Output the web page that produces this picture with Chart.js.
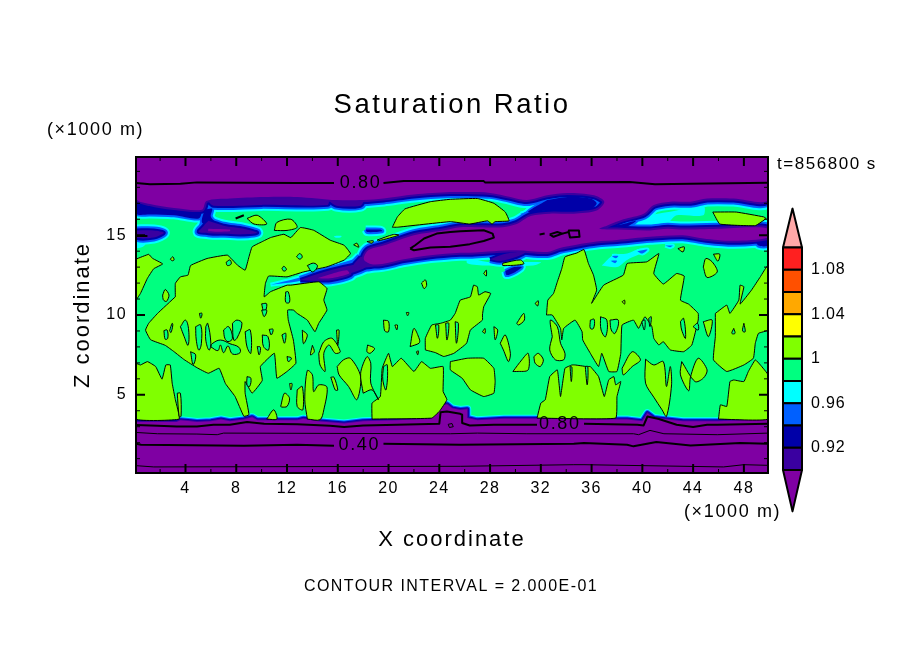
<!DOCTYPE html>
<html>
<head>
<meta charset="utf-8">
<title>Saturation Ratio</title>
<script src="https://cdn.jsdelivr.net/npm/chart.js@4"></script>
<style>
html, body { margin: 0; padding: 0; background: #ffffff; }
#page { position: relative; width: 904px; height: 654px; overflow: hidden; }
#mainchart { position: absolute; left: 0; top: 0; }
#colorbar { position: absolute; left: 770px; top: 190px; }
</style>
</head>
<body>
<div id="page">
<canvas id="mainchart" width="904" height="654"></canvas>
<canvas id="colorbar" width="120" height="340"></canvas>
</div>
<script>
// all shapes are [x km, z km]

// colour bar
const levelEdges = [0.90, 0.92, 0.94, 0.96, 0.98, 1.00, 1.02, 1.04, 1.06, 1.08, 1.10];
const levelColors = ["#3a00a0", "#0000a8", "#0060ff", "#00ffff", "#00ff80", "#80ff00", "#ffff00", "#ffa800", "#ff5000", "#ff2020"];
const belowColor = "#7f00a3";
const aboveColor = "#ffa8a8";
const colorbarTicks = [0.92, 0.96, 1, 1.04, 1.08];

// axes
const xMajorTicks = [4, 8, 12, 16, 20, 24, 28, 32, 36, 40, 44, 48];
const xMinorTicks = [2, 6, 10, 14, 18, 22, 26, 30, 34, 38, 42, 46];
const zMajorTicks = [5, 10, 15];
const zMinorTicks = [1, 2, 3, 4, 6, 7, 8, 9, 11, 12, 13, 14, 16, 17, 18, 19];

// cold regions, upper layer
const coldTop = [[0.1,19.9],[49.9,19.9],[49.9,17.2],[47.2,17.3],[45.1,17.3],[43.8,17.1],[42.2,17.1],[40.9,16.9],[40.1,16.35],[38.5,16.0],[37.2,15.6],[36.6,15.4],[38,15.35],[40.6,15.3],[42,15.4],[43.2,15.35],[45.9,15.4],[48.5,15.5],[49.9,15.4],[49.9,14.85],[47.2,14.65],[44.8,14.8],[43.2,15.0],[40.6,14.9],[38,14.7],[36.4,14.6],[34.8,14.4],[33.5,14.2],[32.5,13.95],[30.1,14.05],[28.3,14.0],[26.4,13.9],[25.65,13.9],[23.3,13.75],[21.2,13.5],[19.5,13.2],[18.6,13.2],[18.05,13.5],[18.4,14.05],[19.6,14.35],[22,15],[24.3,15.3],[25.65,15.5],[27,15.5],[29,15.5],[30.1,15.7],[31.2,16.2],[32.7,16.35],[34.6,16.35],[36.4,16.55],[37,17.1],[36.2,17.5],[34.1,17.65],[32.5,17.5],[30.9,17.2],[29.6,17.4],[28,17.65],[26.2,17.7],[24.87,17.7],[22,17.55],[19.6,17.3],[18,17.2],[15.9,17.2],[12.8,17.4],[10.2,17.4],[7.5,17.3],[5.65,17.15],[5.3,16.6],[3.1,16.7],[1.2,16.95],[0.1,17.3]];
const coldRibbon = [[5.7,17.2],[15.2,17.3],[15.2,16.9],[10,16.9],[6.2,16.85]];
const coldNotch = [[32.5,17.2],[34.1,17.4],[35.9,17.3],[36.4,17.0],[35.9,16.6],[34.1,16.45],[32.5,16.55],[31.0,16.45]];
const coldNotchTail = [[30.4,16.35],[32.2,16.7],[32.2,16.45],[30.8,16.0]];
const coldLeftStrip = [[0.1,17.3],[3.1,16.7],[5.2,16.55],[5.05,16.05],[3.1,16.25],[1.2,16.3],[0.1,16.35]];
const coldLeftBlob = [[0.1,15.3],[1.5,15.3],[2.3,15.15],[1.5,14.85],[0.1,14.85]];
const coldLeftTail = [[0.1,14.8],[0.1,14.2],[0.7,14.3],[1.0,14.8]];
const coldMainBlob = [[5.8,15.9],[7,15.6],[8.6,15.4],[9.65,15.15],[8.3,15.05],[6.5,15.15],[5.05,15.2],[5.45,15.6]];
const coldMainCore = [[5.8,15.4],[7.5,15.35],[7.5,15.25],[5.8,15.25]];
const coldStem = [[5.5,16.6],[5.9,16.5],[5.6,15.85],[5.05,15.5]];
const coldBridge = [[5.5,16.6],[6.1,16.65],[6,16.15],[6.6,15.7],[7.5,15.5],[6,15.6],[5.3,15.8]];
const coldHook = [[15.2,17.2],[18,17.2],[17.8,16.85],[15.9,16.85]];
const coldStreakSmall = [[18.2,15.35],[19.35,15.35],[19.5,15.25],[18.3,15.2]];
const coldSpeck = [[15.7,14.95],[16.3,14.95],[16.2,14.85],[15.8,14.85]];
const coldTail = [[10.7,11.9],[12.8,12.3],[15.4,13],[17.8,13.6],[18,13.35],[15.4,12.6],[12.8,12.1]];
const coldBody = [[13.05,12.2],[14.9,12.7],[17,13.1],[18.6,13.3],[18,12.9],[16.5,12.5],[14.4,12.15]];
const coldBodyCore = [[14.4,12.3],[15.4,12.55],[16.7,12.8],[16.9,12.6],[15.4,12.3]];
const coldLink = [[17.8,13.65],[19.6,13.45],[18.6,13],[17.25,13.1]];
const coldStreakEast = [[28,13.5],[29.3,13.85],[30.8,13.95],[30.1,13.65],[28.8,13.4]];
const coldFringe = [[26.2,13.6],[28,13.3],[32,13.3],[31.4,13.1],[27.8,13.1],[26.2,13.25]];
const coldLowerBlob = [[29.2,12.75],[29.9,13],[30.5,13],[30,12.7],[29.3,12.5]];
const coldPatch = [[36.8,13.1],[37.7,13.75],[38.8,13.85],[39.8,14.15],[40.4,14.05],[38.8,13.45],[38,13]];
const coldDot1 = [[37.6,13.7],[38.1,13.7],[37.9,13.55]];
const coldDot2 = [[37.5,13.4],[38,13.4],[37.85,13.25]];
const coldDot3 = [[39.6,14],[40.4,14.1],[40,13.85]];
const coldDot4 = [[41.8,14.35],[42.4,14.35],[42.2,14.25]];
const coldRightEdge = [[48.9,14.7],[49.9,14.9],[49.9,14.35],[49.15,14.35]];
const coldInlet = [[37,15.5],[38.5,15.8],[40.6,16.25],[42.7,16.55],[44.8,16.9],[44.8,16.25],[42.7,16.25],[42,15.8],[40.9,15.8],[40.6,15.5]];
const coldInletNavy = [[37.3,15.5],[38.5,15.7],[39.5,15.9],[38.8,15.55]];
const coldWest1 = [[1.9,9.3],[2.3,9.55],[2.45,9.15],[2.0,8.9]];

// cold region, lower layer
const coldBottom = [[0.1,3.3],[3.3,3.3],[3.6,3.4],[4.4,3.35],[4.9,3.3],[6,3.35],[6.8,3.45],[7.5,3.35],[8.6,3.45],[9.25,3.6],[9.65,3.4],[12.8,3.4],[13.3,3.5],[14.4,3.35],[16.5,3.2],[18,3.35],[20.7,3.4],[23.3,3.5],[24,4],[24.2,4.3],[24.6,4.4],[25,4.15],[25.65,4.05],[26.2,4.1],[26.2,3.55],[27,3.4],[29.1,3.5],[32,3.5],[36.2,3.45],[38.8,3.45],[40,3.35],[40.4,3.85],[40.9,3.55],[43.2,3.35],[45.9,3.35],[49.9,3.45],[49.9,0.1],[0.1,0.1]];

// areas above saturation, big ones first
const limeNorth = [[20.3,15.5],[20.7,16.15],[21.3,16.65],[23.3,17.1],[24.87,17.25],[27,17.3],[28.3,17],[29.2,16.45],[29.5,15.9],[28.4,15.85],[28.15,15.7],[27.8,15.9],[26.4,15.7],[24.87,15.85],[20.7,15.5]];
const limeNorthEast = [[45.55,16.45],[47.4,16.45],[49.55,16.15],[49.75,16.05],[48.9,15.6],[46.1,15.7]];
const limeWestEdge = [[0.1,13.5],[1.1,13.8],[1.4,13.55],[2.2,13.2],[1.5,12.9],[1,12.3],[0.45,11.35],[0.1,10.95]];
const limeWest = [[3.2,11.14],[3.2,11.98],[3.6,12.39],[4.2,12.5],[4.4,13.1],[5.7,13.54],[7.3,13.75],[8.1,13.12],[8.7,12.81],[9,13.64],[9.25,14.27],[10,14.58],[10.7,14.85],[11.75,15.06],[12.3,14.85],[13.05,15.48],[14.1,15.31],[15.4,14.69],[16.5,14.37],[17,13.85],[16.5,13.44],[15.15,13.02],[13.3,12.7],[12,12.39],[10.55,12.44],[10.3,11.98],[10.2,11.14],[10.7,11.46],[12,11.87],[12.3,11.87],[14.5,12.08],[15.15,11.66],[14.9,10.94],[15.15,10.31],[14.5,9.48],[14.2,8.95],[13.6,9.68],[12.8,10.1],[12.5,10.31],[12.05,10.31],[12.1,9.68],[12.5,8.43],[12.7,6.98],[12,6.46],[11.2,6.04],[11,7.6],[9.9,6.77],[10.05,5.9],[9.25,5.1],[8.7,5.83],[8.7,5.1],[9,3.75],[8.6,3.65],[7.9,4.9],[7.15,5.7],[6.65,6.66],[5.8,6.35],[4.9,6.7],[3.9,7.2],[3.1,7.7],[2.4,8.1],[1.25,8.45],[0.85,9.05],[1.1,9.48],[1.8,10.1]];
const limeSouthWest = [[0.1,6.98],[0.45,6.87],[1,7.08],[1.65,6.77],[2.15,5.98],[2.45,6.87],[2.8,6.87],[2.95,5.73],[3.2,4.7],[3.5,3.48],[0.1,3.48]];
const limeHumpEast = [[18.7,3.48],[18.7,4.48],[19.35,4.89],[19.5,6.66],[20,7.6],[20.3,6.77],[21,7.29],[22,6.46],[22.6,7.08],[23.3,6.66],[24.3,6.77],[24.3,5.21],[24.6,4.69],[24,3.96],[23.4,3.54]];
const limeCentre = [[22.9,7.81],[22.9,8.54],[23.4,9.37],[24.1,9.48],[24.87,9.68],[25.25,10.1],[25.65,10.93],[26.45,11.14],[26.7,11.87],[27,11.77],[27.1,11.25],[27.6,11.46],[28.05,11.35],[27.5,10.52],[27.4,10],[27.4,9.68],[26.45,9.06],[26.15,8.23],[25.15,7.6],[24.35,7.4],[23.7,7.64]];
const limeBlob25 = [[24.87,7.08],[26.2,7.29],[27.5,7.29],[28.3,6.66],[28.4,5.83],[28.3,5.1],[27.5,4.89],[26.45,5.31],[25.8,6.04],[24.87,6.56]];
const limeSouthMid = [[31.7,3.54],[32,4.48],[32.35,4.69],[32.7,6.14],[33.3,6.56],[33.55,4.89],[33.9,6.66],[34.45,6.87],[34.7,6.87],[35.6,6.77],[35.9,6.77],[36.55,6.14],[37,4.89],[37.35,5.94],[37.75,6.14],[37.9,5.62],[38.3,5.83],[38,4.89],[37.9,3.54]];
const limeMidEast = [[32.45,10],[32.55,10.93],[33,11.35],[33.3,12.08],[33.65,12.91],[33.9,13.64],[34.85,13.89],[35.4,14.1],[35.75,13.23],[36.15,12.5],[36.4,11.56],[36,10.73],[36.95,11.87],[38.5,12.5],[38.8,13.23],[40.35,13.33],[41.3,13.85],[40.9,12.6],[41.65,11.94],[42.7,12.6],[43.3,12.44],[43,10.93],[43.65,10.68],[44.4,10.1],[44.4,9.68],[43.9,8.12],[43.25,7.7],[42.2,7.81],[41.65,8.33],[41.3,8.12],[40.9,8.54],[40.75,9.27],[40.2,9.89],[39.7,9.16],[39.3,9.68],[38.4,9.37],[38.3,7.6],[38,6.46],[37.35,6.46],[36.8,7.6],[36.55,6.77],[35.9,7.6],[35.3,8.44],[35.25,8.95],[34.7,9.68],[33.8,9.16],[33.65,8.44],[33.55,9.16],[32.9,10]];
const limeFarEast = [[45.75,10.1],[46.65,10.62],[46.9,10.1],[47.6,10.93],[47.7,11.87],[48,11.77],[47.7,10.68],[48.6,11.56],[49.3,12.4],[49.9,13.12],[49.9,9.06],[49.15,8.85],[48.9,8.23],[48.75,7.29],[48,6.87],[46.65,6.46],[45.6,7.19],[45.75,8.64]];
const limeSouthEast = [[46,3.48],[46.15,4.37],[46.65,4.27],[46.9,5.83],[47.2,5.93],[48,5.83],[48.35,6.46],[48.9,7.19],[49.3,6.87],[49.9,6.25],[49.9,3.48]];

// smaller lime fingers and islands
const limeSliver = [[3.35,5.1],[3.6,5.1],[3.65,3.65],[3.5,3.65]];
const limeIslet1 = [[8.85,16.05],[9.65,16.25],[10.4,15.7],[9.4,15.7]];
const limeIslet2 = [[11,15.3],[11.2,15.8],[12.3,16],[12.8,15.5],[12,15.3]];
const limeIslet3 = [[17.25,14.4],[17.5,14.5],[17.65,14.25]];
const limeIslet4 = [[18.3,14.6],[18.8,14.65],[18.7,14.5]];
const limeIslet5 = [[19.1,14.7],[20.4,15.05],[20.8,15],[19.2,14.65]];
const limeIslet6 = [[22.6,12],[22.9,12.2],[23,11.85],[22.8,11.65]];
const limeIslet7 = [[29,13.25],[30.4,13.45],[30.65,13.2],[29,13.1]];
const limeIslet8 = [[2.8,13.5],[3,13.65],[3.1,13.45],[2.95,13.4]];
const limeIslet9 = [[2.2,11.25],[2.4,11.6],[2.7,11.25],[2.5,10.85],[2.25,10.95]];
const limeFinger1 = [[10.4,3.48],[10.95,4.06],[11.2,3.48]];
const limeFinger2 = [[11.5,4.27],[11.8,5.1],[12.2,4.79],[12,4.27],[11.6,4.23]];
const limeFinger3 = [[13.6,3.48],[13.4,4.7],[13.6,6.52],[14,6.25],[14.1,5.2],[14.5,5.62],[15.15,5.48],[14.9,4.06],[14.6,3.44]];
const limeFinger4 = [[12.8,5.31],[13.2,5.52],[13.25,4.06],[12.8,4.27]];
const limeFinger5 = [[14.5,7.6],[14.9,8.33],[15.55,8.54],[16.2,7.7],[15.8,7.6],[15.3,8.12],[14.9,7.6],[15,6.46],[14.6,6.87]];
const limeFinger6 = [[15.95,6.77],[16.45,7.19],[17,7.29],[17.8,6.14],[17.5,4.69],[16.85,5.52],[16.1,6.25]];
const limeFinger7 = [[18,5.1],[17.8,6.35],[18.3,7.39],[18.6,6.98],[18.6,5.73],[19.2,4.69],[18.7,5.31]];
const limeFinger8 = [[18.35,8.12],[18.9,7.91],[18.55,7.6],[18.3,7.7]];
const limeFinger9 = [[19.6,9.68],[20,9.6],[20,8.95],[19.7,9]];
const limeFinger10 = [[20.5,9.37],[20.7,9.37],[20.65,9.06]];
const limeFinger11 = [[21.7,8.02],[22,9.16],[22.45,8.44],[22.4,8.23]];
const limeFinger12 = [[22.2,7.7],[22.35,7.75],[22.3,7.5]];
const limeFinger13 = [[21.4,10.15],[21.6,10.15],[21.5,9.95]];
const limeFinger14 = [[15.45,6.1],[15.7,6.1],[16,5.3],[15.8,5.3]];
const limeFinger15 = [[32.9,8.64],[32.75,9.68],[33.3,9.27],[33.55,8.23],[33.9,7.6],[33.8,7.19],[33.15,7.19],[32.7,7.81]];
const limeFinger16 = [[38.4,6.66],[39.2,7.7],[39.85,7.19],[39.2,6.77],[38.5,6.25]];
const limeFinger17 = [[31.45,7.39],[31.8,7.6],[32.2,7.19],[31.95,6.77],[31.55,6.98]];
const limeFinger18 = [[29.8,6.46],[30.5,7.19],[31,7.6],[31,6.56],[30.1,6.46]];
const limeFinger19 = [[30.1,9.48],[30.65,10.1],[30.7,9.68],[30.25,9.37]];
const limeFinger20 = [[28.8,8.23],[29.2,8.75],[29.6,7.6],[29.45,7.08],[29.05,7.81]];
const limeFinger21 = [[27.4,8.95],[27.6,9.16],[27.6,8.85]];
const limeFinger22 = [[28.3,9.27],[28.6,9.06],[28.4,8.44]];
const limeFinger23 = [[40.25,7.23],[40.9,6.87],[41.65,7.08],[41.9,5.52],[42.2,6.77],[42.3,5.62],[41.9,3.64],[41.55,4.06],[40.9,4.85],[40.25,5.73]];
const limeFinger24 = [[43.1,7.08],[43,6.25],[43.65,5.25],[43.8,6.14],[44.4,7.29],[45.1,6.56],[44.8,6.04],[44.15,5.83]];
const limeFinger25 = [[44.8,9.58],[45.5,9.68],[45.2,8.64]];
const limeFinger26 = [[13.2,9.05],[13.6,8.75],[13.3,8.2]];
const limeFinger27 = [[14,8.1],[14.15,7.7],[13.85,7.5]];
const limeFinger28 = [[15.9,9.05],[16.1,9.05],[16,8.1]];
const limeFinger29 = [[12.2,5.7],[12.4,5.7],[12.3,5.3]];
const limeIslet10 = [[44.8,13],[45,13.54],[45.5,13.33],[45.9,12.7],[45.1,12.35]];
const limeIslet11 = [[45.6,13.81],[46.1,13.81],[45.95,13.37]];
const limeIslet12 = [[42.8,14.16],[43.3,14.27],[43.2,13.95]];
const limeIslet13 = [[31.55,10.73],[31.8,10.89],[31.75,10.56]];
const limeIslet14 = [[38.4,10.83],[38.6,10.93],[38.6,10.68]];
const limeIslet15 = [[27.5,12.6],[27.7,12.81],[27.7,12.44]];

// mint holes inside the lime areas
const hole1 = [[3.6,9.27],[4,9.68],[4.25,9.06],[4.2,8.1],[3.9,8.64]];
const hole2 = [[4.8,9.27],[5.2,9.37],[5.25,8.2],[5.05,7.8],[4.85,8.43]];
const hole3 = [[5.6,9.27],[5.75,9.48],[6,8.2],[5.85,7.8],[5.6,8.43]];
const hole4 = [[7,9.06],[7.4,9.27],[7.7,8.54],[7.35,8.33],[7.1,8.54]];
const hole5 = [[6,8],[6.55,7.77],[6.75,8.12],[7,7.64],[7.35,8.06],[7.7,7.56],[8.3,7.64],[8.2,7.98],[7.5,8.2],[6.75,8.43],[6.1,8.2]];
const hole6 = [[7.7,9.48],[8.05,9.68],[8.45,9.48],[8.05,8.54],[7.8,8.43]];
const hole7 = [[8.7,8.95],[9.1,9.06],[9.15,7.6],[8.85,8]];
const hole8 = [[10.05,8.75],[10.5,8.64],[10.55,7.81],[10.15,8.02]];
const hole9 = [[9.65,8.02],[9.9,7.98],[9.8,7.5]];
const hole10 = [[11.6,8.75],[11.9,8.85],[11.8,8.23]];
const hole11 = [[12,7.4],[12.35,7.3],[12.1,7.08]];
const hole12 = [[8.85,6.14],[9.15,6.04],[9.05,5.52],[8.85,5.62]];
const hole13 = [[2.3,9.02],[2.55,9.06],[2.6,8.54],[2.4,8.48]];
const hole14 = [[2.75,9.02],[2.95,9.48],[3,9.37],[2.85,8.9]];
const hole15 = [[12.75,13.65],[13,13.85],[13.2,13.65],[13,13.5]];
const hole16 = [[13.6,13.1],[14.1,13.25],[14.4,13.06],[14,12.7]];
const hole17 = [[7.2,13.3],[7.5,13.45],[7.6,13.2],[7.3,13.1]];
const hole18 = [[11.6,12.9],[11.75,13.05],[11.95,12.85],[11.75,12.75]];
const hole19 = [[11.9,11.45],[12.1,11.45],[12.2,10.8],[11.9,10.8]];
const hole20 = [[10,10.7],[10.4,10.7],[10.2,10.1]];
const hole21 = [[19.6,6.77],[19.9,6.87],[19.8,5.31],[19.55,5.93]];
const hole22 = [[23.7,9.37],[23.95,9.37],[23.85,8.54]];
const hole23 = [[24.5,9.48],[24.75,9.48],[24.6,8.43]];
const hole24 = [[25.25,9.58],[25.5,9.48],[25.35,8.23]];
const hole25 = [[34.3,6.77],[34.45,6.73],[34.4,5.83]];
const hole26 = [[35.5,6.77],[35.7,6.77],[35.65,5.62]];
const hole27 = [[35.9,9.68],[36.2,9.73],[36.15,9.16],[35.9,9.16]];
const hole28 = [[36.7,9.89],[37.2,9.68],[37.1,8.64],[36.75,9.06]];
const hole29 = [[37.45,9.68],[38.1,9.68],[37.85,8.85],[37.55,9.06]];
const hole30 = [[39.95,9.58],[40.2,9.68],[40.15,9.06]];
const hole31 = [[40.5,9.79],[40.7,9.89],[40.6,9.27]];
const hole32 = [[43,9.58],[43.25,9.79],[43.4,8.54],[43.1,9.06]];
const hole33 = [[44,9.27],[44.35,9.48],[44.4,9.06]];
const hole34 = [[47.2,9.16],[47.3,8.85],[47.05,8.85]];
const hole35 = [[48,9.48],[48.1,8.95],[47.9,9]];
const hole36 = [[4.4,7.7],[4.8,7.5],[4.6,6.9]];
const hole37 = [[5.1,10.1],[5.3,10.1],[5.2,9.8]];
const hole38 = [[10,10.3],[10.4,10.3],[10.2,9.9]];
const hole39 = [[10.6,9.1],[10.9,9.1],[10.75,8.75]];

// contour lines
const contourTopWest = [[0.1,18.27],[1.2,18.19],[3.6,18.23],[4.9,18.31],[12.8,18.27],[15.7,18.27]];
const contourTopEast = [[19.6,18.27],[21.2,18.39],[24.87,18.39],[27.5,18.39],[27.6,18.31],[39,18.33],[41,18.19],[43.8,18.23],[49.9,18.29]];
const contourLens = [[21.7,14.16],[22.1,14.37],[22.8,14.79],[23.8,15.1],[24.87,15.2],[25.66,15.25],[27.5,15.31],[28.2,15.1],[28.3,14.85],[27.5,14.64],[26.4,14.44],[24.87,14.27],[23.3,14.23],[22,14.06],[21.7,14.16]];
const contourDash = [[7.95,16.05],[8.6,16.25]];
const contourEdgeDash = [[0.1,14.95],[1.0,14.95]];
const contourSmallDash = [[31.9,15.05],[32.3,15.1]];
const contourSmallA = [[32.7,15.05],[33.3,15.2],[33.7,15.1],[33,14.9],[32.7,15.05]];
const contourSmallB = [[33.7,15.1],[34.2,15.2],[34.2,15.3],[35,15.3],[35.05,14.9],[34.3,14.85],[34.2,15.2]];
const contour080West = [[0.1,3.1],[1.8,3.06],[3.3,3.02],[4.9,3.02],[6.2,3.12],[7.5,3.12],[8.85,3.29],[10.2,3.19],[12.8,3.16],[15.4,3.06],[16.5,2.98],[18,3.08],[20.7,3.12],[24,3.19],[24.1,3.9],[24.6,3.95],[25.65,3.81],[25.8,3.75],[25.8,3.23],[26.4,3.08],[28.3,3.12],[31.7,3.12]];
const contour080East = [[35.4,3.19],[39.6,3.12],[40.1,3.08],[40.4,3.64],[41.3,3.48],[42.7,3.12],[44,2.98],[45.1,3.12],[45.9,3.12],[49.9,3.19]];
const contour060 = [[0.1,2.64],[1.8,2.56],[4.9,2.54],[6.5,2.5],[7,2.6],[24.87,2.56],[27,2.6],[30.9,2.56],[39.3,2.56],[39.7,2.5],[40.6,2.77],[41.7,2.56],[45.9,2.5],[49.9,2.6]];
const contour040West = [[0.1,1.93],[0.5,1.87],[8.6,1.81],[12.8,1.87],[15.7,1.81]];
const contour040East = [[19.6,1.93],[25.65,1.87],[34.6,1.93],[35.4,1.98],[38.8,1.87],[39.3,1.77],[41.1,2.04],[43.8,1.83],[47.7,1.98],[49.9,1.93]];
const contour020 = [[0.1,0.56],[1.5,0.48],[25.65,0.52],[34.6,0.62],[35.4,0.62],[46.4,0.48],[48,0.62],[49.9,0.58]];
const contourLoop = [[24.7,3.15],[25,3.2],[25.1,3],[24.8,2.95],[24.7,3.15]];

const contourLabelText = ["0.80", "0.40", "0.80"];
const contourLabelX = [17.8, 17.7, 33.5];
const contourLabelZ = [18.27, 1.87, 3.19];

const plotArea = [[0.1,0.1],[49.9,0.1],[49.9,19.9],[0.1,19.9]];

const FONT = "'Liberation Sans', sans-serif";
const BAND_COLORS = [levelColors[3], levelColors[2], levelColors[1], levelColors[0], belowColor];
const MINT = levelColors[4];
const LIME = levelColors[5];

const wide_cold_shapes = [
    [coldTop, 4], [coldRibbon, 3], [coldNotch, 2], [coldNotchTail, 1], [coldLeftStrip, 2], [coldLeftBlob, 3], [coldLeftTail, 0],
    [coldMainBlob, 3], [coldMainCore, 4], [coldStem, 1], [coldBridge, 2], [coldHook, 3], [coldStreakSmall, 2],
    [coldSpeck, 0], [coldTail, 1], [coldBody, 3], [coldBodyCore, 4], [coldLink, 3], [coldStreakEast, 3],
    [coldFringe, 0], [coldLowerBlob, 2], [coldPatch, 0], [coldDot1, 1], [coldDot2, 1], [coldDot3, 1], [coldDot4, 1],
    [coldRightEdge, 2], [coldInlet, 0], [coldInletNavy, 2], [coldWest1, 1]
];
const narrow_cold_shapes = [[coldBottom, 4]];

const big_lime_shapes = [
    limeNorth, limeNorthEast, limeWestEdge, limeWest, limeSouthWest, limeHumpEast, limeCentre, limeBlob25,
    limeSouthMid, limeMidEast, limeFarEast, limeSouthEast
];
const small_lime_shapes = [
    limeSliver, limeIslet1, limeIslet2, limeIslet3, limeIslet4, limeIslet5, limeIslet6, limeIslet7, limeIslet8, limeIslet9,
    limeIslet10, limeIslet11, limeIslet12, limeIslet13, limeIslet14, limeIslet15,
    limeFinger1, limeFinger2, limeFinger3, limeFinger4, limeFinger5, limeFinger6, limeFinger7, limeFinger8,
    limeFinger9, limeFinger10, limeFinger11, limeFinger12, limeFinger13, limeFinger14, limeFinger15, limeFinger16,
    limeFinger17, limeFinger18, limeFinger19, limeFinger20, limeFinger21, limeFinger22, limeFinger23, limeFinger24, limeFinger25,
    limeFinger26, limeFinger27, limeFinger28, limeFinger29
];
const hole_shapes = [
    hole1, hole2, hole3, hole4, hole5, hole6, hole7, hole8, hole9, hole10, hole11, hole12, hole13, hole14, hole15,
    hole16, hole17, hole18, hole19, hole20, hole21, hole22, hole23, hole24, hole25, hole26, hole27, hole28, hole29,
    hole30, hole31, hole32, hole33, hole34, hole35, hole36, hole37, hole38, hole39
];
// [points, line width]
const contour_lines = [
    [contourTopWest, 2], [contourTopEast, 2], [contourLens, 2], [contourDash, 2], [contourEdgeDash, 2],
    [contourSmallDash, 2], [contourSmallA, 2], [contourSmallB, 2], [contour080West, 2], [contour080East, 2],
    [contour060, 1], [contour040West, 2], [contour040East, 2], [contour020, 1], [contourLoop, 1]
];

function to_points(shape, closed) {
    const pts = shape.map(p => ({x: p[0], y: p[1]}));
    if (closed) pts.push(pts[0]);
    return pts;
}

function polygon(shape, fill_color, line_color, line_width, tension) {
    return {
        data: to_points(shape, true),
        showLine: true,
        pointRadius: 0,
        fill: "shape",
        tension: tension || 0,
        backgroundColor: fill_color,
        borderColor: line_color,
        borderWidth: line_width,
        borderJoinStyle: "round"
    };
}

function polyline(shape, line_width) {
    return {
        data: to_points(shape, false),
        showLine: true,
        pointRadius: 0,
        fill: false,
        borderColor: "#000000",
        borderWidth: line_width,
        borderJoinStyle: "round"
    };
}

function cold_datasets(shapes, step, tension) {
    // every level is painted as the shape plus a stroke as wide as the bands still to come
    const out = [];
    BAND_COLORS.forEach((color, level) => {
        shapes.forEach(item => {
            if (item[1] >= level) {
                out.push(polygon(item[0], color, color, (item[1] - level) * step * 2, tension));
            }
        });
    });
    return out;
}

function build_datasets() {
    // painted in this order, chart.js draws the first dataset last so it gets reversed
    let list = [polygon(plotArea, MINT, MINT, 0)];
    list = list.concat(cold_datasets(wide_cold_shapes, 2, 0.3));
    list = list.concat(cold_datasets(narrow_cold_shapes, 1, 0));
    big_lime_shapes.forEach(s => list.push(polygon(s, LIME, "#000000", 1, 0.1)));
    small_lime_shapes.forEach(s => list.push(polygon(s, LIME, "#000000", 1, 0.3)));
    hole_shapes.forEach(s => list.push(polygon(s, MINT, "#000000", 1, 0.4)));
    contour_lines.forEach(c => list.push(polyline(c[0], c[1])));
    return list.reverse();
}

const frame_plugin = {
    id: "frame",
    beforeDraw(chart) {
        chart.ctx.letterSpacing = "0.09em";
    },
    afterDraw(chart) {
        const ctx = chart.ctx;
        const xs = chart.scales.x, ys = chart.scales.y;
        const a = chart.chartArea;
        ctx.save();
        ctx.strokeStyle = "#000000";
        function tick_x(v, len, w) {
            const p = xs.getPixelForValue(v);
            ctx.lineWidth = w;
            ctx.beginPath();
            ctx.moveTo(p, a.bottom); ctx.lineTo(p, a.bottom - len);
            ctx.moveTo(p, a.top); ctx.lineTo(p, a.top + len);
            ctx.stroke();
        }
        function tick_z(v, len, w) {
            const p = ys.getPixelForValue(v);
            ctx.lineWidth = w;
            ctx.beginPath();
            ctx.moveTo(a.left, p); ctx.lineTo(a.left + len, p);
            ctx.moveTo(a.right, p); ctx.lineTo(a.right - len, p);
            ctx.stroke();
        }
        xMajorTicks.forEach(v => tick_x(v, 9, 2));
        xMinorTicks.forEach(v => tick_x(v, 4, 1));
        zMajorTicks.forEach(v => tick_z(v, 9, 2));
        zMinorTicks.forEach(v => tick_z(v, 4, 1));
        ctx.lineWidth = 2;
        ctx.strokeRect(a.left, a.top, a.right - a.left, a.bottom - a.top);

        ctx.fillStyle = "#000000";
        ctx.textAlign = "center";
        ctx.textBaseline = "middle";
        ctx.font = "18px " + FONT;
        contourLabelText.forEach((t, i) => {
            ctx.fillText(t, xs.getPixelForValue(contourLabelX[i]), ys.getPixelForValue(contourLabelZ[i]));
        });

        ctx.font = "18px " + FONT;
        ctx.textAlign = "left";
        ctx.fillText("(\u00d71000 m)", 47, 130);
        ctx.fillText("(\u00d71000 m)", 684, 512);
        ctx.font = "17px " + FONT;
        ctx.fillText("t=856800 s", 777, 164);
        ctx.font = "16px " + FONT;
        ctx.textAlign = "center";
        ctx.fillText("CONTOUR INTERVAL = 2.000E-01", 451, 587);
        ctx.restore();
    }
};

function main_chart() {
    new Chart(document.getElementById("mainchart"), {
        type: "scatter",
        data: {datasets: build_datasets()},
        plugins: [frame_plugin],
        options: {
            responsive: false,
            animation: false,
            plugins: {
                legend: {display: false},
                tooltip: {enabled: false},
                title: {
                    display: true,
                    text: "Saturation Ratio",
                    color: "#000000",
                    font: {family: FONT, size: 27.5, weight: "normal"},
                    padding: {top: 89, bottom: 35}
                }
            },
            scales: {
                x: {
                    type: "linear", min: 0.1, max: 49.9,
                    afterBuildTicks: s => { s.ticks = xMajorTicks.map(v => ({value: v})); },
                    afterFit: s => { s.height = 181; },
                    grid: {display: false, drawTicks: false},
                    border: {display: false},
                    ticks: {color: "#000000", font: {family: FONT, size: 16}, padding: 6, maxRotation: 0, autoSkip: false},
                    title: {
                        display: true, text: "X coordinate", color: "#000000",
                        font: {family: FONT, size: 22}, padding: {bottom: 101}
                    }
                },
                y: {
                    type: "linear", min: 0.1, max: 19.9,
                    afterBuildTicks: s => { s.ticks = zMajorTicks.map(v => ({value: v})); },
                    afterFit: s => { s.width = 136; },
                    grid: {display: false, drawTicks: false},
                    border: {display: false},
                    ticks: {color: "#000000", font: {family: FONT, size: 16}, padding: 9, autoSkip: false},
                    title: {
                        display: true, text: "Z coordinate", color: "#000000",
                        font: {family: FONT, size: 22}, padding: {top: 70}
                    }
                },
                // empty axis, only keeps the right margin free
                yRight: {
                    type: "linear", position: "right", min: 0, max: 1,
                    afterFit: s => { s.width = 136; },
                    grid: {display: false, drawTicks: false},
                    border: {display: false},
                    ticks: {display: false}
                }
            }
        }
    });
}

function colorbar_chart() {
    const bar_left = 0, bar_right = 1;
    const list = [];
    levelColors.forEach((color, i) => {
        list.push(polygon([[bar_left, levelEdges[i]], [bar_right, levelEdges[i]], [bar_right, levelEdges[i + 1]], [bar_left, levelEdges[i + 1]]], color, "#000000", 2));
    });
    list.push(polygon([[bar_left, 1.10], [bar_right, 1.10], [0.5, 1.135]], aboveColor, "#000000", 2));
    list.push(polygon([[bar_left, 0.90], [bar_right, 0.90], [0.5, 0.8628]], belowColor, "#000000", 2));
    list.forEach(d => { d.clip = false; });
    new Chart(document.getElementById("colorbar"), {
        type: "scatter",
        data: {datasets: list},
        plugins: [{id: "spacing", beforeDraw(chart) { chart.ctx.letterSpacing = "0.05em"; }}],
        options: {
            responsive: false,
            animation: false,
            layout: {padding: {left: 13, right: 0, top: 17, bottom: 16}},
            plugins: {legend: {display: false}, tooltip: {enabled: false}},
            scales: {
                x: {type: "linear", min: 0, max: 1, display: false},
                y: {
                    type: "linear", position: "right", min: 0.8628, max: 1.135,
                    afterBuildTicks: s => { s.ticks = colorbarTicks.map(v => ({value: v})); },
                    afterFit: s => { s.width = 88; },
                    grid: {display: false, drawTicks: false},
                    border: {display: false},
                    ticks: {
                        color: "#000000", font: {family: FONT, size: 16}, padding: 9, autoSkip: false,
                        callback: v => String(v)
                    }
                }
            }
        }
    });
}

function main() {
    main_chart();
    colorbar_chart();
}

main();
</script>
</body>
</html>
